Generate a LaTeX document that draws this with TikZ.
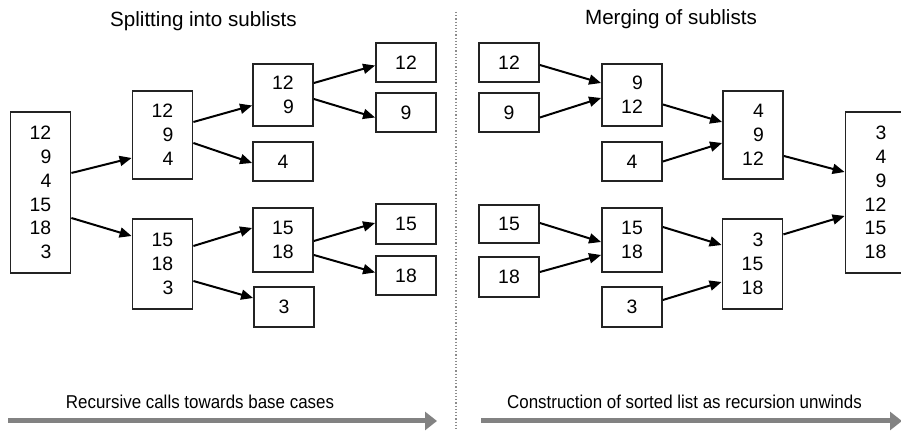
\documentclass[tikz,border=0pt]{standalone}
\usepackage{fontspec}
\setmainfont{Liberation Sans}
\newfontfamily\narrowsans[FakeStretch=0.91]{Liberation Sans}
\usepackage{tikz}
\usetikzlibrary{arrows.meta, positioning}
\definecolor{boxgray}{RGB}{35, 35, 35}
\definecolor{bargray}{RGB}{130, 130, 130}
\definecolor{dividergray}{RGB}{140, 140, 140}
\tikzset{
  >=Triangle,
  listbox/.style={draw=boxgray, line width=0.9pt, fill=white, inner sep=0pt, minimum width=30pt, align=right, font=\fontsize{9.7}{11.9}\selectfont},
  titletext/.style={font=\fontsize{10.3}{12}\selectfont, inner sep=0pt, anchor=base},
  bartext/.style={font=\narrowsans\fontsize{9.3}{11}\selectfont, inner sep=0pt, anchor=base},
  flowarrow/.style={-{Triangle[length=6pt, width=5pt]}, line width=1pt, black},
  progressarrow/.style={-{Triangle[length=6pt, width=9pt]}, line width=2.5pt, bargray},
  divider/.style={densely dotted, line width=0.6pt, dividergray}
}

\begin{document}
\begin{tikzpicture}[x=0.5pt, y=-0.5pt]
    \useasboundingbox (0,0) rectangle (901,431);

    % --- TITLES ---
    \node[titletext] (splittitle) at (203.5,27) {Splitting into sublists};
    \node[titletext] (mergetitle) at (671,25) {Merging of sublists};

    % Divider between both halves
    \draw[divider] (456,12) -- (456,431);

    % --- SPLITTING (LEFT) ---
    \node[listbox, minimum height=80.5pt] (whole) at (40.5,192.5) {12\\9\\4\\15\\18\\3};
    \node[listbox, minimum height=44pt] (half1) at (162.5,135) {12\\9\\4};
    \node[listbox, minimum height=45pt] (half2) at (162.5,264) {15\\18\\3};
    \node[listbox, minimum height=31pt] (quart1) at (283,95) {12\\9};
    \node[listbox, minimum height=32pt] (quart2) at (283,240) {15\\18};
    \node[listbox, minimum height=19.5pt] (leaf12) at (406,62.5) {12};
    \node[listbox, minimum height=19.5pt] (leaf9) at (406,112.5) {9};
    \node[listbox, minimum height=19.5pt] (leaf4) at (283,161.5) {4};
    \node[listbox, minimum height=20pt] (leaf15) at (406,224) {15};
    \node[listbox, minimum height=19.5pt] (leaf18) at (406,275.5) {18};
    \node[listbox, minimum height=20pt] (leaf3) at (284,307) {3};

    \draw[flowarrow] ([yshift=9.75pt]whole.east) -- ([yshift=-11.5pt]half1.west);
    \draw[flowarrow] ([yshift=-12.75pt]whole.east) -- ([yshift=14pt]half2.west);
    \draw[flowarrow] ([yshift=6.5pt]half1.east) -- ([yshift=-5.25pt]quart1.west);
    \draw[flowarrow] ([yshift=-4pt]half1.east) -- ([yshift=-0.75pt]leaf4.west);
    \draw[flowarrow] ([yshift=6pt]quart1.east) -- ([yshift=-1.5pt]leaf12.west);
    \draw[flowarrow] ([yshift=-2pt]quart1.east) -- ([yshift=-2.5pt]leaf9.west);
    \draw[flowarrow] ([yshift=9pt]half2.east) -- ([yshift=6pt]quart2.west);
    \draw[flowarrow] ([yshift=-8.5pt]half2.east) -- ([yshift=4.5pt]leaf3.west);
    \draw[flowarrow] ([yshift=-0.5pt]quart2.east) -- ([yshift=0.5pt]leaf15.west);
    \draw[flowarrow] ([yshift=-7.5pt]quart2.east) -- ([yshift=1.5pt]leaf18.west);

    % --- MERGING (RIGHT) ---
    \node[listbox, minimum height=19.5pt] (in12) at (509,62.5) {12};
    \node[listbox, minimum height=19.5pt] (in9) at (509,112.5) {9};
    \node[listbox, minimum height=19.5pt] (in4) at (632,161.5) {4};
    \node[listbox, minimum height=19pt] (in15) at (509,224) {15};
    \node[listbox, minimum height=20pt] (in18) at (509,277) {18};
    \node[listbox, minimum height=20pt] (in3) at (632,307) {3};
    \node[listbox, minimum height=31pt] (pair1) at (632,95) {9\\12};
    \node[listbox, minimum height=32pt] (pair2) at (632,240) {15\\18};
    \node[listbox, minimum height=44pt] (trio1) at (753,135) {4\\9\\12};
    \node[listbox, minimum height=45pt] (trio2) at (752.5,264) {3\\15\\18};
    \node[listbox, minimum height=80.5pt] (sorted) at (875.5,192.5) {3\\4\\9\\12\\15\\18};

    \draw[flowarrow] ([yshift=-1.25pt]in12.east) -- ([yshift=6pt]pair1.west);
    \draw[flowarrow] ([yshift=-2.5pt]in9.east) -- ([yshift=-1.5pt]pair1.west);
    \draw[flowarrow] ([yshift=-4.75pt]pair1.east) -- ([yshift=6.5pt]trio1.west);
    \draw[flowarrow] ([yshift=0pt]in4.east) -- ([yshift=-4pt]trio1.west);
    \draw[flowarrow] ([yshift=0.5pt]in15.east) -- ([yshift=-1pt]pair2.west);
    \draw[flowarrow] ([yshift=2.5pt]in18.east) -- ([yshift=-7.5pt]pair2.west);
    \draw[flowarrow] ([yshift=6.5pt]pair2.east) -- ([yshift=9.5pt]trio2.west);
    \draw[flowarrow] ([yshift=3.5pt]in3.east) -- ([yshift=-9pt]trio2.west);
    \draw[flowarrow] ([yshift=-10.5pt]trio1.east) -- ([yshift=10.25pt]sorted.west);
    \draw[flowarrow] ([yshift=14.8pt]trio2.east) -- ([yshift=-11.75pt]sorted.west);

    % --- PROGRESS BARS ---
    \node[bartext] (calltext) at (200,408.5) {Recursive calls towards base cases};
    \node[bartext] (unwindtext) at (684.5,408.5) {Construction of sorted list as recursion unwinds};
    \coordinate (callstart) at (8,421);
    \coordinate (callend) at (437,421);
    \coordinate (unwindstart) at (481,421);
    \coordinate (unwindend) at (902,421);
    \draw[progressarrow] (callstart) -- (callend);
    \draw[progressarrow] (unwindstart) -- (unwindend);
\end{tikzpicture}
\end{document}
